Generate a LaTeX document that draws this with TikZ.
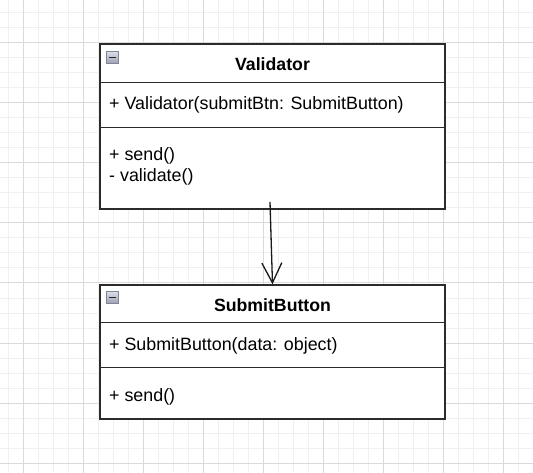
\documentclass[tikz,border=0pt]{standalone}
\usepackage{fontspec}
\setmainfont{Liberation Sans}
\usetikzlibrary{arrows.meta}
\definecolor{gridminor}{HTML}{F0F0F0}
\definecolor{gridmajor}{HTML}{DADADA}
\definecolor{boxline}{HTML}{2B2B2B}
\definecolor{iconborder}{HTML}{80869A}
\definecolor{icontop}{HTML}{DCDEE6}
\definecolor{iconbot}{HTML}{9CA1B0}
\tikzset{
  umlbox/.style={draw=boxline, line width=1.4pt, fill=white, rectangle, inner sep=0pt},
  divider/.style={draw=boxline, line width=1.4pt},
  umltext/.style={inner sep=0pt, anchor=base west, font=\fontsize{17.85}{22}\selectfont, text=black},
  umltitle/.style={inner sep=0pt, anchor=base, font=\fontsize{17.7}{22}\selectfont\bfseries, text=black},
  minusicon/.style={rectangle, inner sep=0pt, minimum size=11.5pt, draw=iconborder, line width=0.9pt,
    top color=icontop, bottom color=iconbot,
    path picture={\draw[line width=1.8pt, black!85] ([xshift=2.5pt]path picture bounding box.west) -- ([xshift=-2.5pt]path picture bounding box.east);}},
  assoc/.style={draw=black!90, line width=1.3pt, -{Straight Barb[length=20pt,width=20pt,line width=1.3pt]}}
}
\begin{document}
\begin{tikzpicture}[x=1pt, y=-1pt]
\useasboundingbox (0,0) rectangle (533,473);
\fill[white] (0,0) rectangle (533,473);
% grid
\foreach \x in {8,23,...,533} \draw[gridminor, line width=1pt] (\x,0) -- (\x,473);
\foreach \y in {13,28,...,473} \draw[gridminor, line width=1pt] (0,\y) -- (533,\y);
\foreach \x in {23,83,...,533} \draw[gridmajor, line width=1pt] (\x,0) -- (\x,473);
\foreach \y in {43,103,...,473} \draw[gridmajor, line width=1pt] (0,\y) -- (533,\y);

% Validator class
\node[umlbox, minimum width=345pt, minimum height=165pt] (val) at (272.5,126.5) {};
\draw[divider] ([yshift=-39pt]val.north west) -- ([yshift=-39pt]val.north east);
\draw[divider] ([yshift=-84pt]val.north west) -- ([yshift=-84pt]val.north east);
\node[minusicon] (valicon) at (112.5,57.5) {};
\node[umltitle] (valtitle) at (272.5,70.5) {Validator};
\node[umltext] (valctor) at (109,110) {+ Validator(submitBtn: SubmitButton)};
\node[umltext] (valsend) at (109,160.5) {+ send()};
\node[umltext] (valvalidate) at (109,182) {- validate()};

% SubmitButton class
\node[umlbox, minimum width=345pt, minimum height=134pt] (sb) at (272.5,352) {};
\draw[divider] ([yshift=-38pt]sb.north west) -- ([yshift=-38pt]sb.north east);
\draw[divider] ([yshift=-83pt]sb.north west) -- ([yshift=-83pt]sb.north east);
\node[minusicon] (sbicon) at (112.5,297.5) {};
\node[umltitle] (sbtitle) at (272.5,311) {SubmitButton};
\node[umltext] (sbctor) at (109,350) {+ SubmitButton(data: object)};
\node[umltext] (sbsend) at (109,401) {+ send()};

% association
\coordinate (src) at (270,202);
\draw[assoc] (src) -- (sb.north);
\end{tikzpicture}
\end{document}
